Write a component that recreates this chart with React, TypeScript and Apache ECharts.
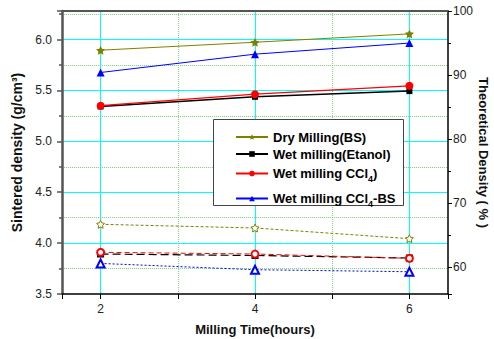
import React, { useEffect, useRef } from "react";
import * as echarts from "echarts";

// ---- data ----
const hours = [2, 4, 6];
const seriesNames = ["Dry Milling(BS)", "Wet milling(Etanol)", "Wet milling CCl4)", "Wet milling CCl4-BS"];
// sintered density (g/cm3), left axis
const dryBS = [5.895, 5.973, 6.055];
const wetEtanol = [5.342, 5.437, 5.493];
const wetCCl4 = [5.35, 5.463, 5.545];
const wetCCl4BS = [5.676, 5.856, 5.965];
// theoretical density (%), right axis
const dryBSPct = [66.65, 66.07, 64.4];
const wetEtanolPct = [62.0, 61.77, 61.38];
const wetCCl4Pct = [62.27, 62.0, 61.33];
const wetCCl4BSPct = [60.53, 59.55, 59.23];
// tick labels
const xTickLabels = ["2", "4", "6"];
const leftTickLabels = ["3.5", "4.0", "4.5", "5.0", "5.5", "6.0"];
const rightTickLabels = ["60", "70", "80", "90", "100"];

const FONT = "'Liberation Sans', Arial, Helvetica, sans-serif";
const STAR = "path://M0,-10 L2.94,-4.05 9.51,-3.09 4.76,1.55 5.88,8.09 0,5 -5.88,8.09 -4.76,1.55 -9.51,-3.09 -2.94,-4.05 Z";
const OLIVE = "#808000";
const MINOR = "#7ddc7d";

const pts = (ys: number[]) => hours.map((h, i) => [h, ys[i]]);

export default function App() {
  const ref = useRef<HTMLDivElement>(null);
  useEffect(() => {
    if (!ref.current) return;
    const chart = echarts.init(ref.current, null, { renderer: "svg" });
    const legendText = {
      fontSize: 13,
      fontWeight: "bold" as const,
      color: "#000",
      fontFamily: FONT,
      lineHeight: 14,
      rich: {
        sub: { fontSize: 9, fontWeight: "bold" as const, fontFamily: FONT, verticalAlign: "bottom" as const, lineHeight: 19, color: "#000" },
      },
    };
    const legendFmt = (name: string) => name.replace("CCl4", "CCl{sub|4}");
    const axisLabelStyle = { fontSize: 12, color: "#222", fontFamily: FONT };
    const nameStyle = { fontSize: 13, fontWeight: "bold" as const, color: "#111", fontFamily: FONT };

    chart.setOption({
      animation: false,
      backgroundColor: "#fff",
      textStyle: { fontFamily: FONT },
      grid: { left: 62, right: 46, top: 11, bottom: 45, containLabel: false, outerBoundsMode: "none" },
      xAxis: [
        {
          type: "value",
          min: 1.5,
          max: 6.5,
          splitNumber: 3,
          position: "bottom",
          axisLine: { show: true, onZero: false, lineStyle: { color: "#000", width: 1.5 } },
          axisTick: { show: true, length: 5, lineStyle: { color: "#000" } },
          minorTick: { show: true, splitNumber: 2, length: 5, lineStyle: { color: "#000" } },
          axisLabel: {
            ...axisLabelStyle,
            margin: 9,
            formatter: (v: number) => (xTickLabels.includes(String(v)) ? String(v) : ""),
          },
          splitLine: { show: true, showMinLine: false, showMaxLine: false, lineStyle: { color: "#00ffff", width: 1 } },
          minorSplitLine: { show: true, lineStyle: { color: MINOR, width: 1, type: "dotted" } },
          name: "Milling Time(hours)",
          nameLocation: "middle",
          nameGap: 29,
          nameTextStyle: nameStyle,
        },
        {
          type: "value",
          min: 1.5,
          max: 6.5,
          position: "top",
          axisLine: { show: true, onZero: false, lineStyle: { color: "#555", width: 2 } },
          axisTick: { show: false },
          axisLabel: { show: false },
          splitLine: { show: false },
        },
      ],
      yAxis: [
        {
          type: "value",
          min: 3.5,
          max: 6.28,
          interval: 0.5,
          position: "left",
          axisLine: { show: true, onZero: false, lineStyle: { color: "#555", width: 2.5 } },
          axisTick: { show: true, length: 5, lineStyle: { color: "#555", width: 1.5 } },
          minorTick: { show: true, splitNumber: 2, length: 3, lineStyle: { color: "#555", width: 1.5 } },
          axisLabel: {
            ...axisLabelStyle,
            margin: 10,
            formatter: (v: number) => {
              const s = v.toFixed(1);
              return leftTickLabels.includes(s) && Math.abs(v - Number(s)) < 1e-6 ? s : "";
            },
          },
          splitLine: { show: true, showMinLine: false, showMaxLine: false, lineStyle: { color: "#00ffff", width: 1 } },
          minorSplitLine: { show: true, lineStyle: { color: MINOR, width: 1, type: "dotted" } },
          name: "Sintered density (g/cm³)",
          nameLocation: "middle",
          nameRotate: 90,
          nameGap: 36,
          nameTextStyle: { ...nameStyle, fontSize: 14 },
        },
        {
          type: "value",
          min: 55.75,
          max: 100,
          splitNumber: 4,
          position: "right",
          axisLine: { show: true, onZero: false, lineStyle: { color: "#000", width: 1.5 } },
          axisTick: { show: true, length: 4, lineStyle: { color: "#000" } },
          minorTick: { show: true, splitNumber: 2, length: 3, lineStyle: { color: "#000" } },
          axisLabel: {
            ...axisLabelStyle,
            margin: 5,
            formatter: (v: number) => (rightTickLabels.includes(String(v)) ? String(v) : ""),
          },
          splitLine: { show: false },
          minorSplitLine: { show: false },
          name: "Theoretical Density ( % )",
          nameLocation: "middle",
          nameRotate: -90,
          nameGap: 29,
          nameMoveOverlap: false,
          nameTextStyle: nameStyle,
        },
      ],
      legend: [
        {
          data: seriesNames.slice(0, 3),
          orient: "vertical",
          left: 230,
          top: 125,
          itemWidth: 32,
          itemHeight: 7,
          itemGap: 3,
          selectedMode: false,
          textStyle: legendText,
          formatter: legendFmt,
          z: 10,
        },
        {
          data: [seriesNames[3]],
          orient: "vertical",
          left: 230,
          top: 184,
          itemWidth: 32,
          itemHeight: 7,
          itemGap: 3,
          selectedMode: false,
          textStyle: legendText,
          formatter: legendFmt,
          z: 10,
        },
      ],
      graphic: [
        {
          type: "rect",
          left: 213,
          top: 119,
          z: 8,
          shape: { x: 0, y: 0, width: 190, height: 86 },
          style: { fill: "#fff", stroke: "#444", lineWidth: 1 },
        },
      ],
      series: [
        {
          name: seriesNames[0],
          type: "line",
          yAxisIndex: 0,
          data: pts(dryBS),
          symbol: STAR,
          symbolSize: 9,
          lineStyle: { color: OLIVE, width: 1 },
          itemStyle: { color: OLIVE },
        },
        {
          name: seriesNames[1],
          type: "line",
          yAxisIndex: 0,
          data: pts(wetEtanol),
          symbol: "rect",
          symbolSize: 6,
          lineStyle: { color: "#000", width: 1.5 },
          itemStyle: { color: "#000" },
        },
        {
          name: seriesNames[2],
          type: "line",
          yAxisIndex: 0,
          data: pts(wetCCl4),
          symbol: "circle",
          symbolSize: 8,
          lineStyle: { color: "#ff0000", width: 1.2 },
          itemStyle: { color: "#ff0000" },
        },
        {
          name: seriesNames[3],
          type: "line",
          yAxisIndex: 0,
          data: pts(wetCCl4BS),
          symbol: "triangle",
          symbolSize: 8,
          lineStyle: { color: "#0000ff", width: 1 },
          itemStyle: { color: "#0000ff" },
        },
        {
          name: "Dry Milling(BS) %",
          type: "line",
          yAxisIndex: 1,
          data: pts(dryBSPct),
          symbol: STAR,
          symbolSize: 8,
          lineStyle: { color: OLIVE, width: 1, type: [3, 2] },
          itemStyle: { color: "#fff", borderColor: OLIVE, borderWidth: 1 },
        },
        {
          name: "Wet milling(Etanol) %",
          type: "line",
          yAxisIndex: 1,
          data: pts(wetEtanolPct),
          symbol: "emptyRect",
          symbolSize: 5,
          lineStyle: { color: "#000", width: 1.2, type: [8, 4] },
          itemStyle: { color: "#000", borderColor: "#000" },
        },
        {
          name: "Wet milling CCl4) %",
          type: "line",
          yAxisIndex: 1,
          data: pts(wetCCl4Pct),
          symbol: "emptyCircle",
          symbolSize: 7,
          lineStyle: { color: "#ff0000", width: 1, type: [5, 3] },
          itemStyle: { color: "#ff0000", borderColor: "#ff0000" },
        },
        {
          name: "Wet milling CCl4-BS %",
          type: "line",
          yAxisIndex: 1,
          data: pts(wetCCl4BSPct),
          symbol: "emptyTriangle",
          symbolSize: 8,
          lineStyle: { color: "#0000ff", width: 1, type: [2, 2] },
          itemStyle: { color: "#0000ff", borderColor: "#0000ff" },
        },
      ],
    });
    return () => chart.dispose();
  }, []);
  return <div ref={ref} style={{ position: "fixed", left: 0, top: 0, width: 494, height: 339 }} />;
}
